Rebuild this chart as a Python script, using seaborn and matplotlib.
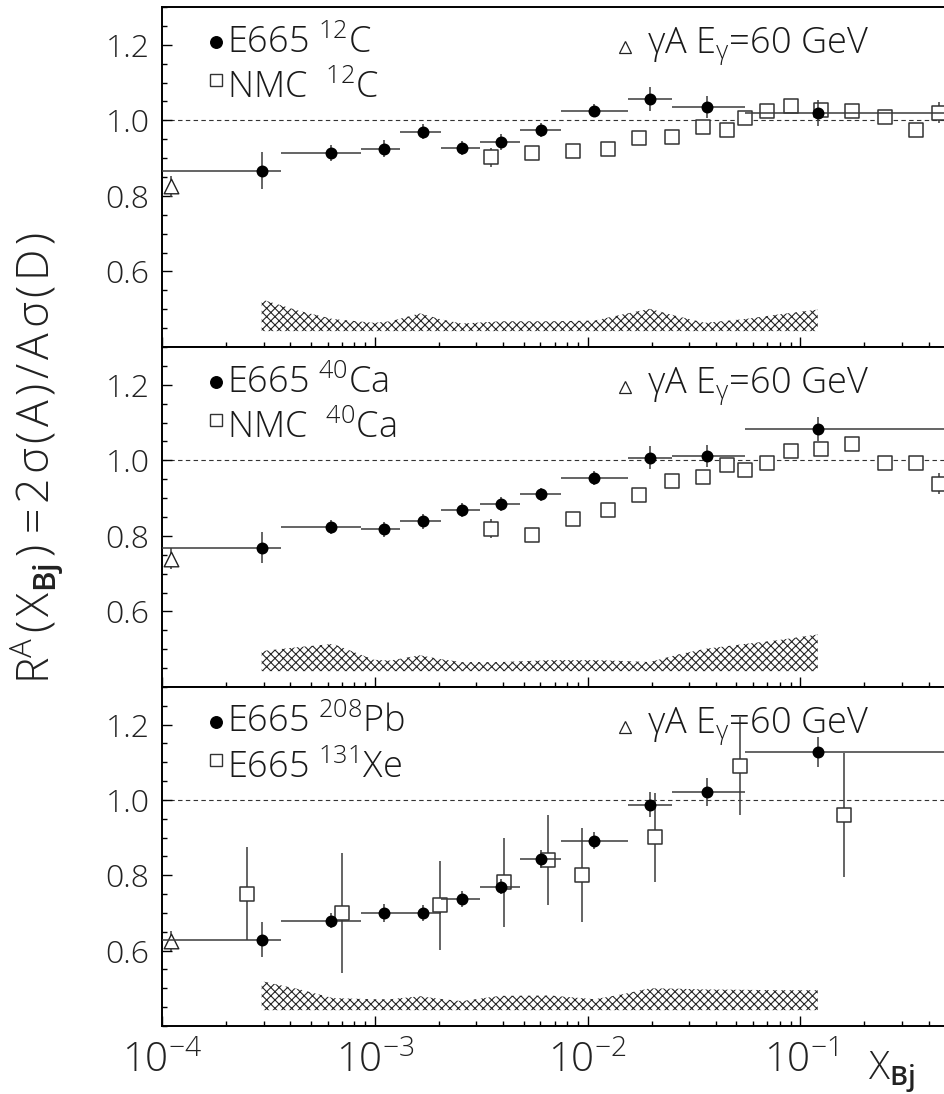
import numpy as np
import matplotlib
matplotlib.use("Agg")
import matplotlib.pyplot as plt
from matplotlib.ticker import (LogLocator, FixedLocator, MultipleLocator,
                               NullFormatter, FormatStrFormatter)
import seaborn as sns

# ---------------------------------------------------------------- data
# E665 x_Bj bins: centres and bin edges (shared by all three targets)
e665_x = [2.95e-4, 6.2e-4, 1.11e-3, 1.69e-3, 2.57e-3, 3.92e-3, 6.03e-3,
          1.07e-2, 1.96e-2, 3.62e-2, 1.205e-1]
e665_lo = [5.0e-5, 3.64e-4, 8.59e-4, 1.32e-3, 2.04e-3, 3.12e-3, 4.81e-3,
           7.46e-3, 1.55e-2, 2.49e-2, 5.47e-2]
e665_hi = [3.64e-4, 8.59e-4, 1.32e-3, 2.04e-3, 3.12e-3, 4.81e-3, 7.46e-3,
           1.55e-2, 2.49e-2, 5.47e-2, 0.6]

e665_c = [0.867, 0.914, 0.925, 0.970, 0.927, 0.942, 0.974, 1.026, 1.057, 1.035, 1.020]
e665_c_err = [0.050, 0.022, 0.023, 0.019, 0.019, 0.021, 0.019, 0.018, 0.032, 0.030, 0.034]
e665_ca = [0.769, 0.824, 0.817, 0.839, 0.869, 0.885, 0.910, 0.953, 1.007, 1.012, 1.082]
e665_ca_err = [0.042, 0.019, 0.020, 0.020, 0.019, 0.018, 0.018, 0.018, 0.031, 0.029, 0.032]
e665_pb = [0.629, 0.680, 0.700, 0.700, 0.737, 0.770, 0.843, 0.892, 0.988, 1.021, 1.127]
e665_pb_err = [0.047, 0.019, 0.024, 0.022, 0.022, 0.020, 0.023, 0.022, 0.033, 0.037, 0.039]

# NMC points
nmc_x = [0.0035, 0.0055, 0.0085, 0.0125, 0.0175, 0.025, 0.035, 0.045,
         0.055, 0.07, 0.09, 0.125, 0.175, 0.25, 0.35, 0.45]
nmc_c = [0.902, 0.914, 0.920, 0.925, 0.952, 0.957, 0.983, 0.975,
         1.005, 1.025, 1.039, 1.027, 1.024, 1.010, 0.974, 1.020]
nmc_ca = [0.819, 0.803, 0.846, 0.869, 0.907, 0.945, 0.956, 0.987,
          0.974, 0.994, 1.026, 1.029, 1.042, 0.993, 0.993, 0.938]
nmc_err = [0.025, 0.012, 0.010, 0.010, 0.010, 0.010, 0.010, 0.010,
           0.010, 0.010, 0.010, 0.012, 0.012, 0.015, 0.018, 0.028]

# E665 xenon points
xe_x = [2.5e-4, 7.03e-4, 2.02e-3, 4.05e-3, 6.5e-3, 9.44e-3, 2.07e-2, 5.2e-2, 0.1607]
xe_r = [0.751, 0.700, 0.721, 0.781, 0.841, 0.801, 0.901, 1.091, 0.960]
xe_err = [0.124, 0.159, 0.118, 0.119, 0.120, 0.124, 0.118, 0.130, 0.165]

# real photoabsorption, E_gamma = 60 GeV
gam_x = 1.1e-4
gam_r = [0.825, 0.740, 0.625]
gam_err = 0.027

# systematic error bands
band_x = [2.94e-4, 4.45e-4, 6.37e-4, 9.91e-4, 1.18e-3, 1.63e-3, 2.02e-3,
          2.56e-3, 3.88e-3, 6.66e-3, 1.08e-2, 1.45e-2, 1.96e-2, 2.66e-2,
          3.56e-2, 5.49e-2, 7.85e-2, 0.1206]
band_base = 0.442
band_c = [0.526, 0.495, 0.474, 0.464, 0.468, 0.489, 0.474, 0.462, 0.468,
          0.468, 0.470, 0.486, 0.501, 0.481, 0.464, 0.474, 0.486, 0.499]
band_ca = [0.495, 0.506, 0.514, 0.472, 0.470, 0.484, 0.474, 0.466, 0.466,
           0.471, 0.471, 0.469, 0.466, 0.486, 0.501, 0.514, 0.524, 0.539]
band_pb = [0.519, 0.497, 0.474, 0.471, 0.471, 0.479, 0.472, 0.466, 0.480,
           0.481, 0.471, 0.484, 0.500, 0.499, 0.497, 0.496, 0.495, 0.495]

y_ticks = [0.6, 0.8, 1.0, 1.2]

# ---------------------------------------------------------------- style
sns.set_theme(style="ticks")
FONT = "Open Sans"
plt.rcParams["font.family"] = [FONT, "DejaVu Sans"]
plt.rcParams["font.weight"] = "light"
plt.rcParams["mathtext.fontset"] = "custom"
plt.rcParams["mathtext.rm"] = f"{FONT}:light"
plt.rcParams["mathtext.it"] = f"{FONT}:italic:light"
plt.rcParams["mathtext.bf"] = f"{FONT}:semibold"
plt.rcParams["mathtext.default"] = "regular"
plt.rcParams["hatch.linewidth"] = 0.8
plt.rcParams["axes.linewidth"] = 1.4

W, H = 945, 1094
fig = plt.figure(figsize=(W / 100, H / 100), dpi=100)
fig.patch.set_facecolor("white")

px = 1 / 100 * 72  # one pixel in points
ERR_COL = "#3a3a3a"
TXT_COL = "#1a1a1a"
HS = "\u200a"  # hair space for the loosely set axis title


def make_axes(top, bottom):
    return fig.add_axes([162 / W, 1 - bottom / H, 783 / W, (bottom - top) / H])


def draw_panel(ax, r, r_err, sq_x, sq_r, sq_err, band_top, lab1, lab2, gy,
               bottom=False):
    ax.set_facecolor("white")
    ax.set_xscale("log")
    ax.set_xlim(1e-4, 0.478)
    ax.set_ylim(0.4, 1.3)

    ax.axhline(1.0, color="#333333", lw=0.8, ls=(0, (4, 3)), zorder=0.5)

    ax.fill_between(band_x, band_base, band_top, facecolor="white",
                    edgecolor="#262626", hatch="xxxx", linewidth=0, zorder=1)

    # open squares
    ax.errorbar(sq_x, sq_r, yerr=sq_err, fmt="none", ecolor=ERR_COL,
                elinewidth=1.1, capsize=0, zorder=2)
    sns.scatterplot(x=sq_x, y=sq_r, ax=ax, marker="s", s=10.4 ** 2,
                    color="#333333", facecolor="white", edgecolor="#333333",
                    linewidth=1.1, zorder=2.5, legend=False)

    # photoabsorption point
    ax.errorbar([gam_x], [gy], yerr=gam_err, fmt="none", ecolor=ERR_COL,
                elinewidth=1.1, capsize=0, zorder=2)
    sns.scatterplot(x=[gam_x], y=[gy], ax=ax, marker="^", s=10.5 ** 2,
                    color="#222222", facecolor="white", edgecolor="#222222",
                    linewidth=1.0, zorder=2.6, legend=False)

    # E665 closed circles with bin widths
    x = np.asarray(e665_x)
    xerr = [x - np.asarray(e665_lo), np.asarray(e665_hi) - x]
    ax.errorbar(x, r, xerr=xerr, yerr=r_err, fmt="none", ecolor=ERR_COL,
                elinewidth=1.1, capsize=0, zorder=3)
    sns.scatterplot(x=x, y=r, ax=ax, marker="o", s=8.6 ** 2, color="black",
                    edgecolor="black", linewidth=0, zorder=4, legend=False)

    # in-panel legend
    ax.plot([0.0695], [0.897], marker="o", ms=8.3, color="black",
            transform=ax.transAxes, clip_on=False, zorder=5)
    ax.plot([0.0695], [0.786], marker="s", ms=8.8, mfc="white",
            mec="#333333", mew=1.0, transform=ax.transAxes, zorder=5)
    ax.text(0.083, 0.866, lab1, transform=ax.transAxes, fontsize=26,
            va="baseline", ha="left", color=TXT_COL)
    ax.text(0.083, 0.732, lab2, transform=ax.transAxes, fontsize=26,
            va="baseline", ha="left", color=TXT_COL)
    ax.plot([0.591], [0.883], marker="^", ms=8.5, mfc="white",
            mec="#222222", mew=0.9, transform=ax.transAxes, zorder=5)
    ax.text(0.619, 0.865, r"$\gamma$A E$_{\gamma}$=60 GeV",
            transform=ax.transAxes, fontsize=26, va="baseline", ha="left",
            color=TXT_COL)

    # axes cosmetics
    for side in ("top", "left", "bottom"):
        ax.spines[side].set_visible(True)
        ax.spines[side].set_color("black")
        ax.spines[side].set_linewidth(1.4)
    ax.spines["right"].set_visible(False)

    ax.xaxis.set_major_locator(LogLocator(base=10, numticks=12))
    ax.xaxis.set_minor_locator(LogLocator(base=10, subs=np.arange(2, 10),
                                          numticks=40))
    ax.xaxis.set_minor_formatter(NullFormatter())
    ax.yaxis.set_major_locator(FixedLocator(y_ticks))
    ax.yaxis.set_minor_locator(MultipleLocator(0.05))
    ax.yaxis.set_major_formatter(FormatStrFormatter("%.1f"))

    ax.tick_params(axis="both", which="major", direction="in",
                   length=10 * px, width=1.0, color="black")
    ax.tick_params(axis="both", which="minor", direction="in",
                   length=5 * px, width=1.0, color="black")
    ax.tick_params(axis="x", which="both", top=False, bottom=True)
    ax.tick_params(axis="y", which="both", left=True, right=False,
                   labelsize=23, pad=9, labelcolor="#222222")
    ax.tick_params(axis="x", which="major", labelsize=29, pad=11,
                   labelbottom=bottom, labelcolor="#222222")
    ax.set_xlabel("")
    ax.set_ylabel("")
    ax.grid(False)


ax1 = make_axes(7, 347)
ax2 = make_axes(347, 687)
ax3 = make_axes(687, 1026)

draw_panel(ax1, e665_c, e665_c_err, nmc_x, nmc_c, nmc_err, band_c,
           r"E665 $^{12}$C", r"NMC  $^{12}$C", gam_r[0])
draw_panel(ax2, e665_ca, e665_ca_err, nmc_x, nmc_ca, nmc_err, band_ca,
           r"E665 $^{40}$Ca", r"NMC  $^{40}$Ca", gam_r[1])
draw_panel(ax3, e665_pb, e665_pb_err, xe_x, xe_r, xe_err, band_pb,
           r"E665 $^{208}$Pb", r"E665 $^{131}$Xe", gam_r[2], bottom=True)

ylab = ("R$^{A}$" + HS + "(" + HS + "X$_{\\mathbf{Bj}}$" + HS + ")" + " " + "="
        + HS + HS.join("2σ(A)/Aσ(D)"))
fig.text(37 / W, 1 - 684 / H, ylab,
         rotation=90, fontsize=32, ha="center", va="bottom", color="#222222")
fig.text(868 / W, 1 - 1080 / H, r"X$_{\mathbf{Bj}}$", fontsize=28,
         ha="left", va="baseline", color="#222222")

fig.savefig("out.png", dpi=100, facecolor="white")
